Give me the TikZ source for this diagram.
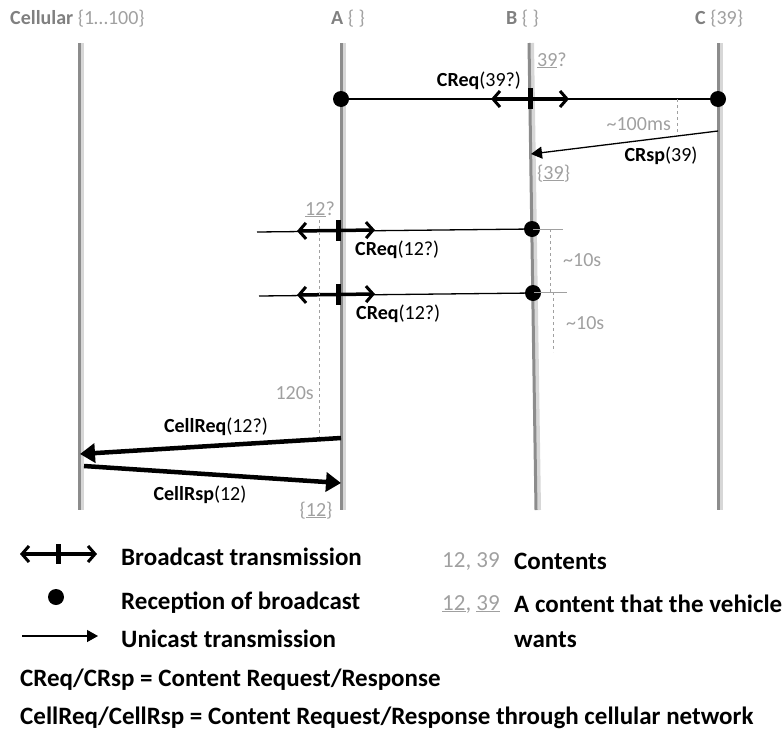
\documentclass[tikz,border=0pt]{standalone}
\usepackage{fontspec}
\setmainfont{Carlito}
\usetikzlibrary{arrows.meta}
\definecolor{hdr}{RGB}{128,128,128}
\definecolor{ann}{RGB}{160,160,160}
\definecolor{life}{RGB}{140,140,140}
\definecolor{shade}{RGB}{215,215,215}
\tikzset{
  lifeline/.style={line width=3pt,draw=life},
  lifeshade/.style={line width=4pt,draw=shade},
  txt/.style={inner sep=0pt,font=\fontsize{20}{22}\selectfont},
  legtxt/.style={inner sep=0pt,anchor=west,font=\fontsize{25}{28}\selectfont\bfseries},
  anntxt/.style={txt,text=ann},
  rxdot/.style={circle,fill=black,inner sep=0pt,minimum size=16pt},
  thin/.style={line width=1.3pt},
  bcast/.style={line width=3.5pt,{Straight Barb[length=7pt,width=16pt,line width=3pt]}-{Straight Barb[length=7pt,width=16pt,line width=3pt]}},
  bticktip/.style={line width=5pt},
  ucast/.style={line width=1.3pt,-{Triangle[length=11pt,width=12pt]}},
  cell/.style={line width=4.5pt,-{Triangle[length=15pt,width=19pt]}},
  gdash/.style={draw=ann,dashed,line width=0.7pt},
  gtick/.style={draw=ann,line width=0.8pt},
}
\begin{document}
\begin{tikzpicture}[x=1pt,y=-1pt]
\useasboundingbox (0,0) rectangle (783,731);
% lifeline coordinates
\coordinate (cellT) at (79,43); \coordinate (cellB) at (79,510);
\coordinate (aT) at (341,43);  \coordinate (aB) at (341,510);
\coordinate (bT) at (529,43);  \coordinate (bB) at (536,510);
\coordinate (cT) at (718,43);  \coordinate (cB) at (718,510);
\foreach \t/\b in {cellT/cellB,aT/aB,bT/bB,cT/cB}{
  \draw[lifeshade] ([xshift=3pt]\t) -- ([xshift=3pt]\b);
  \draw[lifeline] (\t) -- (\b);
}
% headers
\node[txt,anchor=base west] (hcell) at (10,24) {\textcolor{hdr}{\bfseries Cellular} \textcolor{ann}{\{1…100\}}};
\node[txt,anchor=base west] (ha) at (331,24) {\textcolor{hdr}{\bfseries A} \textcolor{ann}{\{ \}}};
\node[txt,anchor=base west] (hb) at (506,24) {\textcolor{hdr}{\bfseries B} \textcolor{ann}{\{ \}}};
\node[txt,anchor=base west] (hc) at (695,24) {\textcolor{hdr}{\bfseries C} \textcolor{ann}{\{39\}}};

% --- CReq(39?) broadcast from B
\node[rxdot] (da1) at (341,99) {};
\node[rxdot] (dc1) at (718,99) {};
\draw[thin] (da1) -- (dc1);
\coordinate (bl1) at (491,99); \coordinate (br1) at (569,99);
\draw[bcast] (bl1) -- (br1);
\coordinate (bt1a) at (530,88); \coordinate (bt1b) at (530,109);
\draw[bticktip] (bt1a) -- (bt1b);
\node[txt,anchor=base] (lcreq1) at (479,86) {\textbf{CReq}(39?)};
\node[anntxt,anchor=base west] (q39) at (537,66) {\underline{39}?};

% ~100ms and CRsp
\coordinate (d100a) at (677,99); \coordinate (d100b) at (677,133);
\draw[gdash] (d100a) -- (d100b);
\node[anntxt,anchor=base east] (l100) at (671,130) {\textasciitilde 100ms};
\coordinate (crs) at (718,131); \coordinate (cre) at (531,154);
\draw[ucast] (crs) -- (cre);
\node[txt,anchor=base] (lcrsp) at (661,161) {\textbf{CRsp}(39)};
\node[anntxt,anchor=base west] (g39) at (537,179) {\{\underline{39}\}};

% --- CReq(12?) #1
\node[anntxt,anchor=base] (q12) at (320,215) {\underline{12}?};
\coordinate (l2s) at (257,232);
\node[rxdot] (db2) at (532,229) {};
\draw[thin] (l2s) -- (db2);
\coordinate (bl2) at (297,231); \coordinate (br2) at (375,230);
\draw[bcast] (bl2) -- (br2);
\coordinate (bt2a) at (338,220); \coordinate (bt2b) at (338,241);
\draw[bticktip] (bt2a) -- (bt2b);
\node[txt,anchor=base west] (lcreq2) at (355,255) {\textbf{CReq}(12?)};
\coordinate (gt2a) at (533,229); \coordinate (gt2b) at (563,229);
\draw[gtick] (gt2a) -- (gt2b);
\coordinate (dd2a) at (550,229); \coordinate (dd2b) at (550,292);
\draw[gdash] (dd2a) -- (dd2b);
\node[anntxt,anchor=base west] (l10a) at (563,266) {\textasciitilde 10s};

% --- CReq(12?) #2
\coordinate (l3s) at (259,296);
\node[rxdot] (db3) at (533,293) {};
\draw[thin] (l3s) -- (db3);
\coordinate (bl3) at (297,295); \coordinate (br3) at (375,294);
\draw[bcast] (bl3) -- (br3);
\coordinate (bt3a) at (338,284); \coordinate (bt3b) at (338,305);
\draw[bticktip] (bt3a) -- (bt3b);
\node[txt,anchor=base west] (lcreq3) at (356,319) {\textbf{CReq}(12?)};
\coordinate (gt3a) at (534,292); \coordinate (gt3b) at (567,292);
\draw[gtick] (gt3a) -- (gt3b);
\coordinate (dd3a) at (553,292); \coordinate (dd3b) at (553,352);
\draw[gdash] (dd3a) -- (dd3b);
\node[anntxt,anchor=base west] (l10b) at (566,329) {\textasciitilde 10s};

% --- 120s
\coordinate (d120a) at (319,220); \coordinate (d120b) at (319,438);
\draw[gdash] (d120a) -- (d120b);
\node[anntxt,anchor=base east] (l120) at (314,399) {120s};

% --- Cellular
\coordinate (cq1) at (341,438); \coordinate (cq2) at (80,454);
\draw[cell] (cq1) -- (cq2);
\node[txt,anchor=base] (lcellreq) at (216,432) {\textbf{CellReq}(12?)};
\coordinate (cr1) at (84,466); \coordinate (cr2) at (341,483);
\draw[cell] (cr1) -- (cr2);
\node[txt,anchor=base] (lcellrsp) at (200,500) {\textbf{CellRsp}(12)};
\node[anntxt,anchor=base] (g12) at (316,516) {\{\underline{12}\}};

% --- Legend
\coordinate (lg1a) at (20,554); \coordinate (lg1b) at (97,554);
\draw[bcast] (lg1a) -- (lg1b);
\coordinate (lgta) at (58,544); \coordinate (lgtb) at (58,564);
\draw[bticktip] (lgta) -- (lgtb);
\node[legtxt] (lbt) at (121,557) {Broadcast transmission};
\node[rxdot] (lgdot) at (56,597) {};
\node[legtxt] (lrb) at (121,603) {Reception of broadcast};
\coordinate (lg3a) at (22,636); \coordinate (lg3b) at (98,636);
\draw[ucast] (lg3a) -- (lg3b);
\node[legtxt] (lut) at (121,639) {Unicast transmission};
\node[legtxt] (lcr) at (20,680) {CReq/CRsp = Content Request/Response};
\node[legtxt] (lcc) at (20,718) {CellReq/CellRsp = Content Request/Response through cellular network};
\node[inner sep=0pt,anchor=west,text=ann,font=\fontsize{23}{26}\selectfont] (lk1) at (442,561) {12, 39};
\node[legtxt] (lk1t) at (514,561) {Contents};
\node[inner sep=0pt,anchor=west,text=ann,font=\fontsize{23}{26}\selectfont] (lk2) at (442,604) {\underline{12}, \underline{39}};
\node[legtxt] (lk2t) at (514,604) {A content that the vehicle};
\node[legtxt] (lk2u) at (514,640) {wants};
\end{tikzpicture}
\end{document}
